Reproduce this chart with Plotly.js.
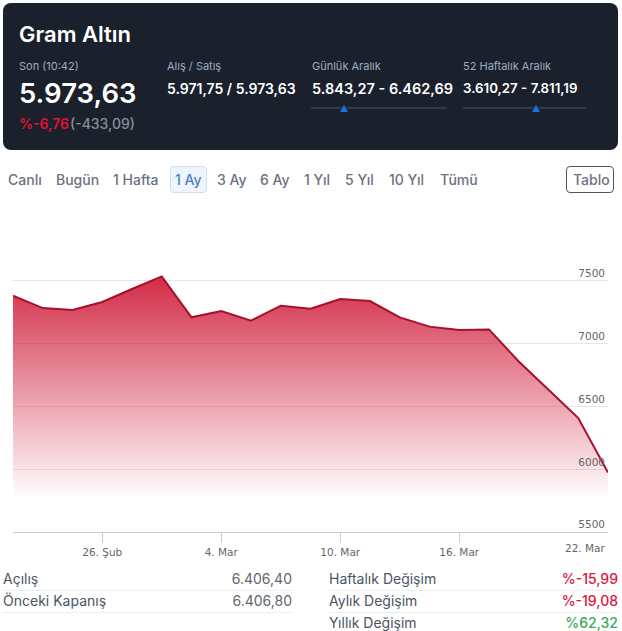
<!DOCTYPE html>
<html lang="tr"><head><meta charset="utf-8">
<script src="https://cdn.plot.ly/plotly-3.0.1.min.js"></script>
<style>
html,body{margin:0;padding:0;background:#fff;width:622px;height:631px;overflow:hidden;font-family:Inter,"Noto Sans",sans-serif}
.t{position:absolute;white-space:nowrap;line-height:1;transform:translateY(-50%)}
.box{position:absolute;box-sizing:border-box}
#chart{position:absolute;left:0;top:200.3px;width:622px;height:380px}
</style></head><body>
<div class="box" style="left:3px;top:3px;width:615px;height:147px;background:#1a202c;border-radius:8px"></div>
<div id="chart"></div>
<div id="chrome"></div>
<script>
// Chart data (weekday sessions)
const dates = ["23 Şub","24 Şub","25 Şub","26 Şub","27 Şub","2 Mar","3 Mar","4 Mar","5 Mar","6 Mar","9 Mar","10 Mar","11 Mar","12 Mar","13 Mar","16 Mar","17 Mar","18 Mar","19 Mar","20 Mar","23 Mar"];
const prices = [7381,7283,7267,7331,7435,7535,7209,7260,7182,7302,7278,7355,7339,7209,7135,7108,7113,6858,6633,6407,5973];
const tickPositions = [3,7,11,15,19.65];
const tickLabels = ["26. Şub","4. Mar","10. Mar","16. Mar",""];
const lastTickLabel = "22. Mar";
const priceTicks = [5500,6000,6500,7000,7500,8000];
const priceTickLabels = ["5500","6000","6500","7000","7500",""];

// Page texts
const periods = ["Canlı","Bugün","1 Hafta","1 Ay","3 Ay","6 Ay","1 Yıl","5 Yıl","10 Yıl","Tümü"];
const periodLefts = [8,56,113,175,217,260,304,345,389,440];
const statsLeft = [["Açılış","6.406,40"],["Önceki Kapanış","6.406,80"]];
const statsRight = [["Haftalık Değişim","%-15,99"],["Aylık Değişim","%-19,08"],["Yıllık Değişim","%62,32"]];

const c = document.getElementById('chrome');
function txt(s,x,y,size,color,weight,right){
  const d=document.createElement('div');d.className='t';d.textContent=s;
  d.style.top=y+'px';d.style.fontSize=size+'px';d.style.color=color;d.style.fontWeight=weight||400;
  if(right!==undefined){d.style.right=(622-right)+'px'}else{d.style.left=x+'px'}
  c.appendChild(d);return d;
}
function box(x,y,w,h,css){
  const d=document.createElement('div');d.className='box';
  d.style.cssText+=`left:${x}px;top:${y}px;width:${w}px;height:${h}px;`+css;
  c.appendChild(d);return d;
}
// header
txt("Gram Altın",19,34,22,"#ffffff",600);
txt("Son (10:42)",19,66,11,"#a0aec0");
txt("5.973,63",19,94,27.5,"#ffffff",600);
txt("%-6,76",19,124,14,"#e0142f",600);
txt("(-433,09)",70,124,14,"#8a8f98",500);
txt("Alış / Satış",167,66,11,"#a0aec0");
txt("5.971,75 / 5.973,63",167,89,14,"#ffffff",600);
txt("Günlük Aralık",312,66,11,"#a0aec0");
txt("5.843,27 - 6.462,69",312,89,14.5,"#ffffff",600);
txt("52 Haftalık Aralık",463,66,11,"#a0aec0");
txt("3.610,27 - 7.811,19",463,89,13.3,"#ffffff",600);
box(311,107,136,2,"background:#2d3a4a");
box(463,107,123,2,"background:#2d3a4a");
[344,536].forEach(x=>box(x-4,105,8,7,"background:#1673dc;clip-path:polygon(50% 0,100% 100%,0 100%)"));
// period buttons
box(170,166,37,27,"background:#eef5fc;border:1px solid #cfe0f0;border-radius:4px");
periods.forEach((p,i)=>txt(p,periodLefts[i],180,14,p==="1 Ay"?"#4a80c4":"#6b7280",500));
box(566,166,48,27,"border:1px solid #555;border-radius:4px");
txt("Tablo",573,180,14,"#6b7280",500);
// stats
statsLeft.forEach((r,i)=>{
  const y=579+22*i;
  txt(r[0],3,y,14,"#4b5563");txt(r[1],0,y,14,"#5f6670",400,292);
  box(3,y+11,289,1,"background:#eeeeee");
});
statsRight.forEach((r,i)=>{
  const y=579+22*i, pos=r[1].indexOf('-')<0;
  txt(r[0],329,y,14,"#4b5563");txt(r[1],0,y,14,pos?"#3aa655":"#dc143c",500,618);
  if(i<2)box(329,y+11,289,1,"background:#eeeeee");
});

const axisFont={family:'"DejaVu Sans",sans-serif',size:10.5,color:'#666666'};
Plotly.newPlot('chart',[{
  type:'scatter',mode:'lines',
  x:prices.map((_,i)=>i),y:prices,text:dates,
  line:{color:'#a80f2d',width:2,shape:'linear'},
  fill:'tozeroy',
  fillgradient:{type:'vertical',start:5770,stop:7535,
    colorscale:[[0,'rgba(205,20,50,0)'],[1,'rgba(205,20,50,0.9)']]},
  hovertemplate:'%{text}: %{y}<extra></extra>'
}],{
  width:622,height:380,
  margin:{l:13,r:14,t:18,b:48},
  paper_bgcolor:'rgba(0,0,0,0)',plot_bgcolor:'rgba(0,0,0,0)',
  showlegend:false,
  xaxis:{range:[0,20],tickmode:'array',tickvals:tickPositions,ticktext:tickLabels,
    showgrid:false,zeroline:false,showline:true,linecolor:'#cccccc',linewidth:1,
    ticks:'outside',ticklen:10,tickcolor:'#cccccc',tickwidth:1,tickfont:axisFont},
  yaxis:{range:[5500,8000],side:'right',tickmode:'array',tickvals:priceTicks,ticktext:priceTickLabels,
    ticklabelposition:'inside top',showgrid:true,gridcolor:'#e6e6e6',gridwidth:1,
    zeroline:false,showline:false,ticks:'',tickfont:axisFont,layer:'above traces'},
  annotations:[{xref:'x',yref:'paper',x:20,y:0,xanchor:'right',yanchor:'top',yshift:-8,
    text:lastTickLabel,showarrow:false,font:axisFont}]
},{displayModeBar:false,staticPlot:true});
</script></body></html>
